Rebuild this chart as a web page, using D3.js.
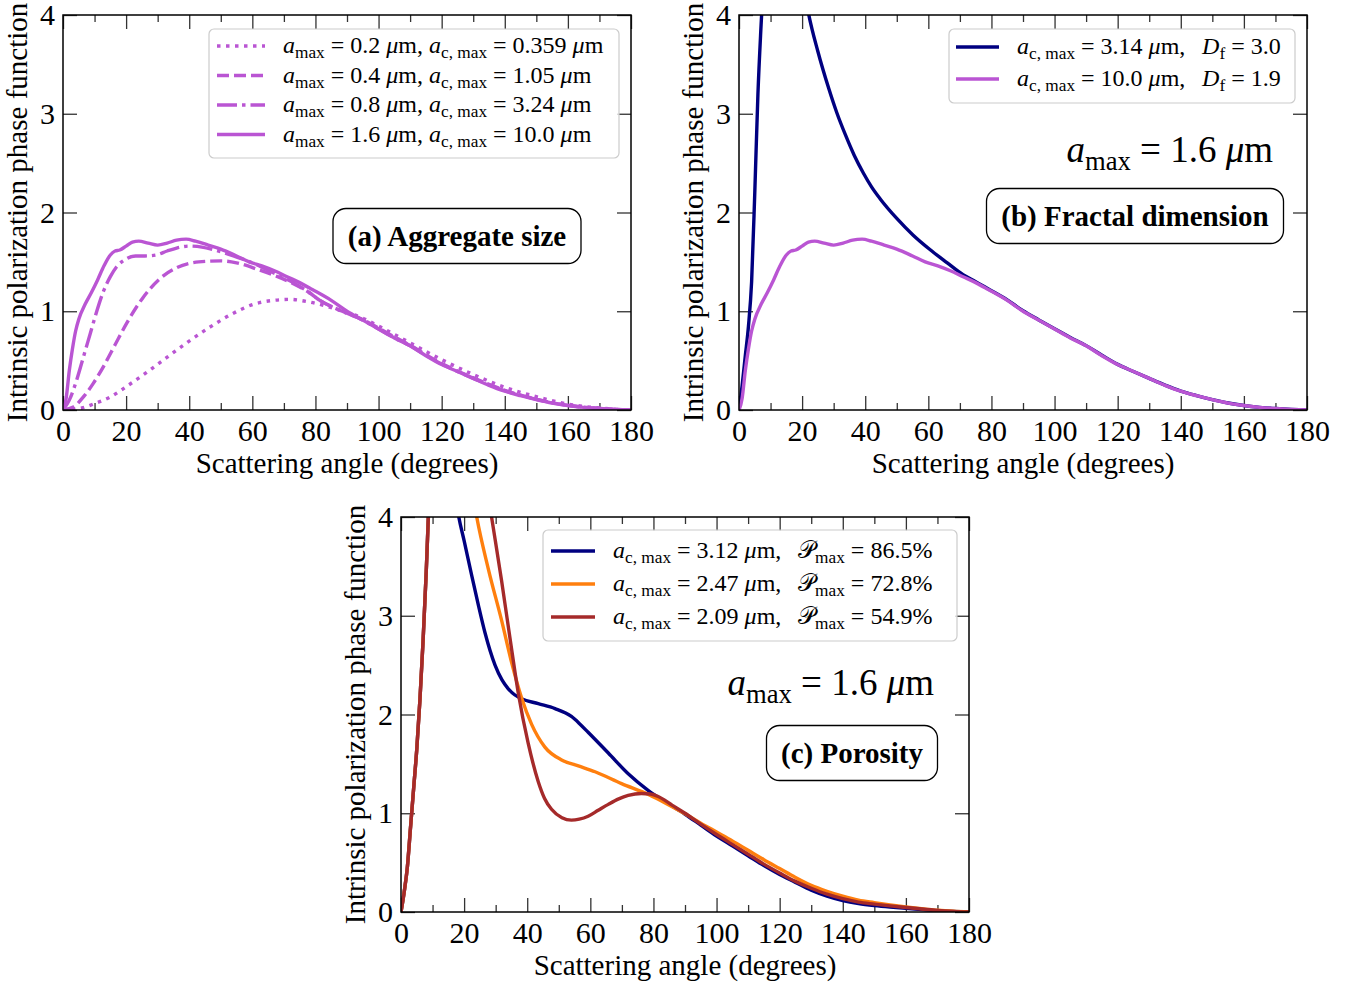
<!DOCTYPE html>
<html><head><meta charset="utf-8">
<script src="https://cdn.jsdelivr.net/npm/d3@7/dist/d3.min.js"></script>
<style>body{margin:0;background:#fff}svg{display:block}</style>
</head><body><svg id="fig" width="1359" height="988"></svg>
<script>
// ---------- DATA ----------
const xTicks = [0,20,40,60,80,100,120,140,160,180];
const xMinor = [10,30,50,70,90,110,130,150,170];
const yTicks = [0,1,2,3,4];

// (a) aggregate size / (b) Df=1.9 : a_max=1.6, a_c,max=10.0
const angSolid = [0,1,2,3,4,5,7,9,11,13,15,16.5,18,20,22,24,27,30,33,36,39,42,46,50,55,59,63,67,71,75,79,85,90,95,100,105,110,115,120,125,130,135,140,145,150,155,160,165,170,175,180];
const valSolid = [0,0.12,0.4,0.62,0.8,0.92,1.07,1.19,1.32,1.46,1.57,1.61,1.62,1.66,1.70,1.71,1.69,1.67,1.69,1.72,1.73,1.71,1.67,1.63,1.56,1.50,1.46,1.41,1.35,1.29,1.22,1.11,1.00,0.91,0.82,0.73,0.65,0.55,0.46,0.39,0.32,0.25,0.19,0.145,0.105,0.07,0.045,0.027,0.015,0.006,0];
// a_max=0.8
const angDashDot = [0,2,4.3,6.5,8.6,10.7,12.8,15,17,20,23,26,29.5,33,36,40,44,48,54,60,66,73,78,81.4,87.7,95,100,105,110,115,120,125,130,135,140,145,150,155,160,165,170,175,180];
const valDashDot = [0,0.1,0.3,0.54,0.77,1.0,1.2,1.35,1.45,1.53,1.56,1.56,1.57,1.61,1.64,1.66,1.65,1.62,1.56,1.49,1.40,1.29,1.19,1.11,1.01,0.91,0.82,0.73,0.65,0.555,0.465,0.39,0.32,0.255,0.195,0.148,0.108,0.072,0.047,0.028,0.015,0.006,0];
// a_max=0.4
const angDashed = [0,3.3,6.4,9.6,13,16.5,20.2,25.4,30.7,36,43,50,55,62,68,73,78,81.4,87.7,95,100,105,110,115,120,125,130,135,140,145,150,155,160,165,170,175,180];
const valDashed = [0,0.03,0.13,0.27,0.45,0.66,0.88,1.14,1.33,1.44,1.50,1.51,1.49,1.42,1.35,1.28,1.19,1.11,1.01,0.915,0.83,0.74,0.655,0.56,0.47,0.395,0.325,0.26,0.2,0.15,0.11,0.074,0.048,0.029,0.016,0.006,0];
// a_max=0.2
const angDotted = [0,3,6,9.6,14.9,20.2,26.5,32.8,39.2,46.6,54,60.3,66.6,72,77,82.5,87.7,95,100,110,120,130,140,150,160,170,180];
const valDotted = [0,0.005,0.02,0.06,0.13,0.24,0.38,0.53,0.68,0.84,0.98,1.07,1.11,1.12,1.10,1.06,1.01,0.93,0.85,0.68,0.51,0.36,0.23,0.135,0.06,0.02,0];

// (b) Df=3.0, a_c,max=3.14
const angDf30 = [0,1,2,3,4,5,6,7,8,10,13,16,19,22,25,28.5,31,33.8,36.5,39.4,42,44.7,50,55.2,60.5,66,71,75,78.5,85,90,95,100,105,110,115,120,125,130,135,140,145,150,155,160,165,170,175,180];
const valDf30 = [0,0.25,0.55,0.85,1.3,2.2,3.2,3.9,4.5,5.3,5.7,5.35,4.6,4.02,3.63,3.25,3.01,2.78,2.58,2.40,2.26,2.14,1.94,1.77,1.625,1.49,1.37,1.30,1.235,1.115,1.005,0.912,0.822,0.735,0.652,0.555,0.462,0.39,0.32,0.252,0.192,0.146,0.106,0.071,0.045,0.027,0.015,0.006,0];

// (c) porosity
const angP865 = [0,1,2,3,4,5,6,7,8,9,10,11,12,13,14,15,16,17,18.2,20,22.4,24.5,26.6,29.8,32,34,36,38.2,43.5,48.8,54,56.5,59.3,65.7,72,78.4,84,90,95,100,105,110,115,120,125,130,135,140,145,150,155,160,165,170,175,180];
const valP865 = [0,0.2,0.45,0.85,1.25,1.65,2.15,2.75,3.45,4.25,4.6,4.8,4.9,4.9,4.8,4.65,4.47,4.27,4.02,3.76,3.41,3.11,2.83,2.50,2.35,2.26,2.2,2.16,2.11,2.06,1.98,1.91,1.82,1.61,1.40,1.23,1.11,0.99,0.88,0.77,0.67,0.57,0.47,0.38,0.30,0.22,0.16,0.115,0.085,0.065,0.05,0.038,0.025,0.013,0.005,0];
const angP728 = [0,1,2,3,4,5,6,7,8,9,10,12,14,16,18,20,22,24,27.7,31.9,35.1,38.2,41.4,45.6,50.9,56.2,61.5,69.9,78.4,84,90,95,100,105,110,115,120,125,130,135,140,145,150,155,160,165,170,175,180];
const valP728 = [0,0.2,0.45,0.85,1.25,1.65,2.15,2.75,3.45,4.25,4.7,5.2,5.4,5.35,5.1,4.75,4.38,4.0,3.47,2.95,2.52,2.17,1.90,1.67,1.54,1.48,1.42,1.30,1.19,1.10,0.995,0.90,0.81,0.72,0.625,0.53,0.44,0.35,0.27,0.21,0.16,0.12,0.095,0.072,0.052,0.034,0.018,0.007,0];
const angP549 = [0,1,2,3,4,5,6,7,8,9,10,12,14,16,18,20,22,24,26.5,28.7,31.9,35.1,37.2,40.3,43.5,45.5,47.7,51,54,56.5,59.3,62.5,65.7,69,72,76.2,79,81.5,86,90,95,100,105,110,115,120,125,130,135,140,145,150,155,160,165,170,175,180];
const valP549 = [0,0.2,0.45,0.85,1.25,1.65,2.15,2.75,3.45,4.25,4.75,5.4,5.75,5.85,5.75,5.5,5.2,4.85,4.45,4.0,3.35,2.65,2.21,1.71,1.32,1.15,1.04,0.955,0.93,0.94,0.97,1.03,1.09,1.145,1.18,1.20,1.195,1.17,1.08,1.0,0.89,0.785,0.685,0.585,0.485,0.395,0.31,0.24,0.18,0.135,0.1,0.08,0.062,0.046,0.03,0.016,0.006,0];

// legends
const legA = [
 {ang:angDotted, val:valDotted, dash:"3.5,5.5", amax:"0.2", acmax:"0.359"},
 {ang:angDashed, val:valDashed, dash:"12,5", amax:"0.4", acmax:"1.05"},
 {ang:angDashDot, val:valDashDot, dash:"20,5,3.5,5", amax:"0.8", acmax:"3.24"},
 {ang:angSolid, val:valSolid, dash:null, amax:"1.6", acmax:"10.0"}
];
const legB = [
 {ang:angDf30, val:valDf30, color:"#000080", acmax:"3.14", df:"3.0"},
 {ang:angSolid, val:valSolid, color:"#BA55D3", acmax:"10.0", df:"1.9"}
];
const legC = [
 {ang:angP865, val:valP865, color:"#000080", acmax:"3.12", p:"86.5"},
 {ang:angP728, val:valP728, color:"#FF7F0E", acmax:"2.47", p:"72.8"},
 {ang:angP549, val:valP549, color:"#A52A2A", acmax:"2.09", p:"54.9"}
];

// ---------- DRAW ----------
const svg = d3.select("#fig");
const FONT = "'Liberation Serif','Times New Roman',serif";
const VIOLET = "#BA55D3";
const LW = 3.4;

function rich(sel, parts, size){
  parts.forEach(p=>{
    const t = sel.append("tspan").text(p.t);
    if(p.i) t.attr("font-style","italic");
    if(p.sub){ t.attr("font-size", size*0.72).attr("dy", size*0.22); }
    if(p.unsub){ t.attr("dy", -size*0.22); }
  });
}
const S = " = ";
const GAP = "m,\u2002\u2009";

function panel(id, x0, x1, yT, yB){
  const g = svg.append("g");
  const x = d3.scaleLinear().domain([0,180]).range([x0,x1]);
  const y = d3.scaleLinear().domain([0,4]).range([yB,yT]);
  svg.append("clipPath").attr("id","clip"+id).append("rect")
    .attr("x",x0).attr("y",yT).attr("width",x1-x0).attr("height",yB-yT);
  const ax = (a)=>a.call(s=>{s.select(".domain").remove(); s.selectAll("line").attr("stroke","#333").attr("stroke-width",1.3);});
  g.append("g").attr("transform",`translate(0,${yB})`).call(d3.axisBottom(x).tickValues(xTicks).tickSize(-14).tickPadding(10).tickFormat(d3.format("d"))).call(ax)
    .selectAll("text").attr("font-family",FONT).attr("font-size",30).attr("fill","#000");
  g.append("g").attr("transform",`translate(0,${yB})`).call(d3.axisBottom(x).tickValues(xMinor).tickSize(-7).tickFormat("")).call(ax);
  g.append("g").attr("transform",`translate(0,${yT})`).call(d3.axisTop(x).tickValues(xTicks).tickSize(-14).tickFormat("")).call(ax);
  g.append("g").attr("transform",`translate(0,${yT})`).call(d3.axisTop(x).tickValues(xMinor).tickSize(-7).tickFormat("")).call(ax);
  g.append("g").attr("transform",`translate(${x0},0)`).call(d3.axisLeft(y).tickValues(yTicks).tickSize(-14).tickPadding(8).tickFormat(d3.format("d"))).call(ax)
    .selectAll("text").attr("font-family",FONT).attr("font-size",30).attr("fill","#000");
  g.append("g").attr("transform",`translate(${x1},0)`).call(d3.axisRight(y).tickValues(yTicks).tickSize(-14).tickFormat("")).call(ax);
  g.append("text").attr("x",(x0+x1)/2).attr("y",yB+63).attr("text-anchor","middle")
    .attr("font-family",FONT).attr("font-size",29).text("Scattering angle (degrees)");
  g.append("text").attr("transform",`translate(${x0-36},${(yT+yB)/2}) rotate(-90)`).attr("text-anchor","middle")
    .attr("font-family",FONT).attr("font-size",29).text("Intrinsic polarization phase function");
  const curves = svg.append("g").attr("clip-path",`url(#clip${id})`);
  const frame = ()=> svg.append("rect").attr("x",x0).attr("y",yT).attr("width",x1-x0).attr("height",yB-yT)
    .attr("fill","none").attr("stroke","#000").attr("stroke-width",1.5);
  return {x,y,curves,frame,g};
}
function drawLine(p, ang, val, color, dash){
  const line = d3.line().x(d=>p.x(d[0])).y(d=>p.y(d[1])).curve(d3.curveMonotoneX);
  const path = p.curves.append("path").datum(d3.zip(ang,val)).attr("d",line)
    .attr("fill","none").attr("stroke",color).attr("stroke-width",LW).attr("stroke-linejoin","round");
  if(dash) path.attr("stroke-dasharray",dash);
}
function legendBox(x,y,w,h){
  svg.append("rect").attr("x",x).attr("y",y).attr("width",w).attr("height",h).attr("rx",5)
    .attr("fill","#fff").attr("fill-opacity",0.8).attr("stroke","#cccccc").attr("stroke-width",1.2);
}
function labelBox(cx,cy,w,h,txt){
  svg.append("rect").attr("x",cx-w/2).attr("y",cy-h/2).attr("width",w).attr("height",h).attr("rx",13)
    .attr("fill","#fff").attr("stroke","#000").attr("stroke-width",1.3);
  svg.append("text").attr("x",cx).attr("y",cy+10).attr("text-anchor","middle").attr("font-family",FONT)
    .attr("font-weight","bold").attr("font-size",29).text(txt);
}
function amaxText(x,y,size){
  const t = svg.append("text").attr("x",x).attr("y",y).attr("text-anchor","end").attr("font-family",FONT).attr("font-size",size);
  rich(t,[{t:"a",i:true},{t:"max",sub:true},{t:S+"1.6 ",unsub:true},{t:"μ",i:true},{t:"m"}],size);
}

// Panel A
const A = panel("A",63,631,15,410);
legA.forEach(d=>drawLine(A,d.ang,d.val,VIOLET,d.dash));
A.frame();
legendBox(209,29,410,129);
legA.forEach((d,i)=>{
  const yy = 46+i*29.5;
  svg.append("line").attr("x1",217).attr("x2",265).attr("y1",yy).attr("y2",yy)
    .attr("stroke",VIOLET).attr("stroke-width",LW).attr("stroke-dasharray",d.dash);
  const t = svg.append("text").attr("x",283).attr("y",yy+7).attr("font-family",FONT).attr("font-size",24);
  rich(t,[{t:"a",i:true},{t:"max",sub:true},{t:S+d.amax+" ",unsub:true},{t:"μ",i:true},{t:"m, "},
          {t:"a",i:true},{t:"c, max",sub:true},{t:S+d.acmax+" ",unsub:true},{t:"μ",i:true},{t:"m"}],24);
});
labelBox(457,236,248,55,"(a) Aggregate size");

// Panel B
const B = panel("B",739,1307,15,410);
legB.forEach(d=>drawLine(B,d.ang,d.val,d.color,null));
B.frame();
legendBox(949,29,346,74);
legB.forEach((d,i)=>{
  const yy = 47+i*32;
  svg.append("line").attr("x1",956).attr("x2",999).attr("y1",yy).attr("y2",yy).attr("stroke",d.color).attr("stroke-width",LW);
  const t = svg.append("text").attr("x",1017).attr("y",yy+7).attr("font-family",FONT).attr("font-size",24);
  rich(t,[{t:"a",i:true},{t:"c, max",sub:true},{t:S+d.acmax+" ",unsub:true},{t:"μ",i:true},{t:GAP},
          {t:"D",i:true},{t:"f",sub:true},{t:S+d.df,unsub:true}],24);
});
amaxText(1273,162,37);
labelBox(1135,216,297,55,"(b) Fractal dimension");

// Panel C
const C = panel("C",401,969,517,912);
legC.forEach(d=>drawLine(C,d.ang,d.val,d.color,null));
C.frame();
legendBox(543,530,414,111);
legC.forEach((d,i)=>{
  const yy = 551+i*33;
  svg.append("line").attr("x1",551).attr("x2",595).attr("y1",yy).attr("y2",yy).attr("stroke",d.color).attr("stroke-width",LW);
  const t = svg.append("text").attr("x",613).attr("y",yy+7).attr("font-family",FONT).attr("font-size",24);
  rich(t,[{t:"a",i:true},{t:"c, max",sub:true},{t:S+d.acmax+" ",unsub:true},{t:"μ",i:true},{t:GAP},
          {t:"𝒫"},{t:"max",sub:true},{t:S+d.p+"%",unsub:true}],24);
});
amaxText(934,695,37);
labelBox(852,753,171,55,"(c) Porosity");
</script></body></html>
